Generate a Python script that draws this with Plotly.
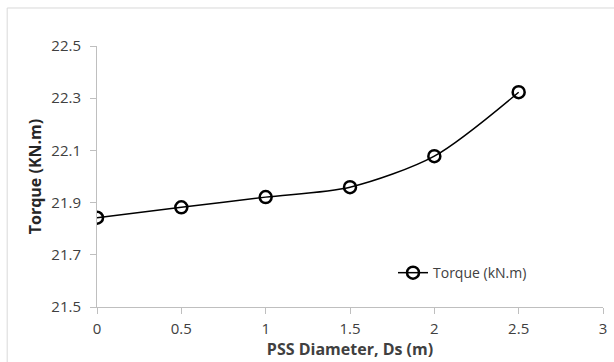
import plotly.graph_objects as go

diameter = [0, 0.5, 1, 1.5, 2, 2.5]
torque = [21.842, 21.882, 21.921, 21.959, 22.078, 22.323]
x_ticks = [0, 0.5, 1, 1.5, 2, 2.5, 3]
y_ticks = [21.5, 21.7, 21.9, 22.1, 22.3, 22.5]

font_family = "Open Sans, Liberation Sans, sans-serif"

fig = go.Figure()
fig.add_trace(go.Scatter(
    x=diameter, y=torque, mode="lines+markers", name="Torque (kN.m)",
    line=dict(color="black", width=1.5, shape="spline", smoothing=0.8),
    marker=dict(symbol="circle-open", size=12, color="black", line=dict(width=2.5, color="black")),
))

axis_common = dict(showgrid=False, zeroline=False, showline=True, linecolor="#bfbfbf", linewidth=1,
                   ticks="outside", tickcolor="#bfbfbf", ticklen=6,
                   tickfont=dict(family=font_family, size=15, color="#404040"))

fig.update_layout(
    width=614, height=362,
    margin=dict(l=97, r=7, t=46, b=55),
    paper_bgcolor="white", plot_bgcolor="white",
    xaxis=dict(range=[0, 3], tickvals=x_ticks, ticktext=[f"{v:g}" for v in x_ticks],
               title=dict(text="<b>PSS Diameter, Ds (m)</b>", font=dict(family=font_family, size=16, color="#404040"), standoff=3),
               ticklabelstandoff=2,
               **axis_common),
    yaxis=dict(range=[21.5, 22.5], tickvals=y_ticks, ticktext=[f"{v:.1f}" for v in y_ticks],
               title=dict(text="<b>Torque (KN.m)</b>", font=dict(family=font_family, size=16, color="#262626"), standoff=5),
               ticklabelstandoff=6,
               **axis_common),
    showlegend=True,
    legend=dict(x=0.585, y=0.13, xanchor="left", yanchor="middle", bgcolor="rgba(0,0,0,0)",
                font=dict(family=font_family, size=14, color="#404040"), itemwidth=30),
    shapes=[dict(type="rect", xref="paper", yref="paper", x0=-0.1775, x1=1.2, y0=-0.4, y1=1.1456,
                 line=dict(color="#d9d9d9", width=1))],
)

fig.write_html("out.html")
